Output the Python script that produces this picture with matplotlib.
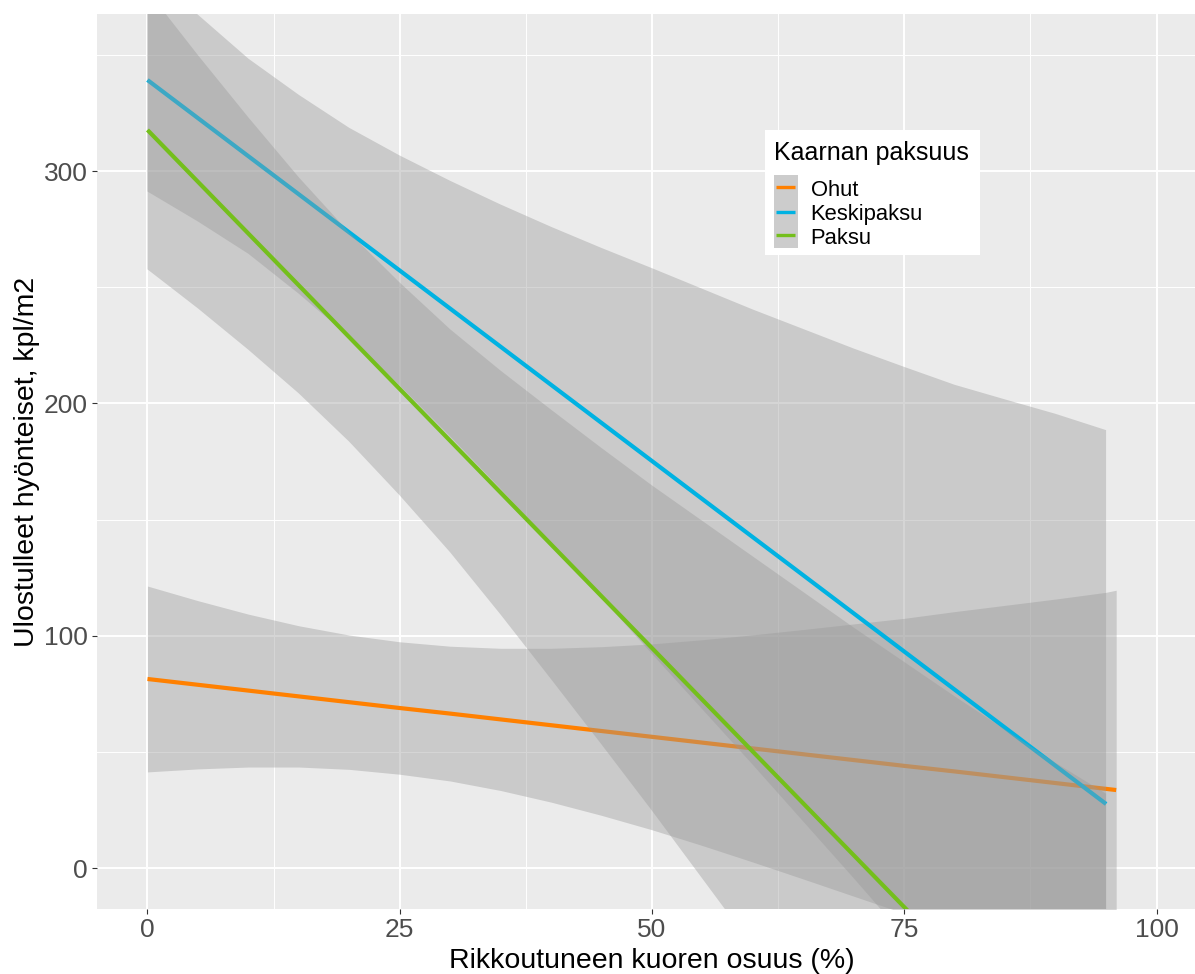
import matplotlib.pyplot as plt
from matplotlib.patches import Rectangle
from matplotlib.lines import Line2D

plt.rcParams["font.family"] = ["Liberation Sans", "DejaVu Sans"]

W, H = 1195, 974

# series (lm fits + 95% bands per bark thickness)
groups = ["Ohut", "Keskipaksu", "Paksu"]
colors = ["#FF8000", "#00B2E2", "#74BF1C"]

ohut_x = [0, 5, 10, 15, 20, 25, 30, 35, 40, 45, 50, 55, 60, 65, 70, 75, 80,
          85, 90, 95, 96]
ohut_fit = [81.4, 78.9, 76.4, 73.9, 71.4, 68.9, 66.5, 64.0, 61.5, 59.0, 56.5,
            54.0, 51.5, 49.0, 46.5, 44.0, 41.6, 39.1, 36.6, 34.1, 33.6]
ohut_upper = [121.4, 115.1, 109.3, 104.3, 100.3, 97.4, 95.5, 94.6, 94.6, 95.3,
              96.5, 98.3, 100.4, 102.7, 105.1, 107.5, 110.4, 113.1, 115.8,
              118.7, 119.6]
ohut_lower = [41.4, 42.7, 43.5, 43.5, 42.5, 40.4, 37.5, 33.4, 28.4, 22.7, 16.5,
              9.7, 2.6, -4.7, -12.1, -19.5, -27.2, -34.9, -42.6, -50.5, -52.4]

kesk_x = [0, 5, 10, 15, 20, 25, 30, 35, 40, 45, 50, 55, 60, 65, 70, 75, 80,
          85, 90, 95]
kesk_fit = [339.2, 322.8, 306.4, 290.0, 273.6, 257.2, 240.8, 224.4, 208.0,
            191.6, 175.2, 158.8, 142.4, 126.0, 109.6, 93.2, 76.8, 60.4, 44.0,
            27.6]
kesk_upper = [387.2, 367.3, 348.4, 332.8, 318.6, 306.7, 295.8, 285.6, 276.0,
              266.9, 258.2, 249.3, 240.4, 232.0, 223.6, 215.7, 208.0, 201.7,
              195.5, 188.5]
kesk_lower = [291.2, 278.3, 264.4, 247.2, 228.6, 207.7, 185.8, 163.2, 140.0,
              116.3, 92.2, 68.3, 44.4, 20.0, -4.4, -29.3, -54.4, -80.9,
              -107.5, -133.3]

paks_x = [0, 5, 10, 15, 20, 25, 30, 35, 40, 45, 50, 55, 60, 65, 70, 75, 80,
          85, 90, 95]
paks_fit = [317.7, 295.4, 273.1, 250.8, 228.5, 206.2, 183.9, 161.6, 139.3,
            117.0, 94.7, 72.4, 50.1, 27.8, 5.5, -16.8, -39.1, -61.4, -83.7,
            -106.0]
paks_upper = [377.7, 349.9, 323.1, 297.3, 273.5, 252.0, 231.9, 214.1, 197.3,
              180.8, 164.7, 149.4, 134.1, 118.8, 103.5, 88.7, 73.9, 59.6,
              45.3, 32.0]
paks_lower = [257.7, 240.9, 223.1, 204.3, 183.5, 160.4, 135.9, 109.1, 81.3,
              53.2, 24.7, -4.6, -33.9, -63.2, -92.5, -122.3, -152.1, -182.4,
              -212.7, -244.0]

series = [
    (ohut_x, ohut_fit, ohut_lower, ohut_upper),
    (kesk_x, kesk_fit, kesk_lower, kesk_upper),
    (paks_x, paks_fit, paks_lower, paks_upper),
]

x_ticks = [0, 25, 50, 75, 100]
y_ticks = [0, 100, 200, 300]


def fx(px):
    return px / W


def fy(py):
    return 1 - py / H


fig = plt.figure(figsize=(W / 100, H / 100), dpi=100)
fig.patch.set_facecolor("white")

# panel runs past the right edge, as in the cropped reference
ax = fig.add_axes([fx(97), fy(909), (1207 - 97) / W, (909 - 14) / H])
ax.set_facecolor("#EBEBEB")
for s in ax.spines.values():
    s.set_visible(False)

z = 2
for (x, fit, lo, up), col in zip(series, colors):
    ax.fill_between(x, lo, up, color="#999999", alpha=0.4, lw=0, zorder=z)
    ax.plot(x, fit, color=col, lw=3.0, solid_capstyle="butt", zorder=z + 1)
    z += 2

ax.set_xlim(-5, 105)
ax.set_ylim(-17.6, 367.6)
ax.set_xticks(x_ticks)
ax.set_xticks([12.5, 37.5, 62.5, 87.5], minor=True)
ax.set_yticks(y_ticks)
ax.set_yticks([50, 150, 250, 350], minor=True)
ax.set_xticklabels([str(v) for v in x_ticks])
ax.set_yticklabels([str(v) for v in y_ticks])
ax.set_axisbelow(True)
ax.grid(which="major", color="white", lw=1.4)
ax.grid(which="minor", color="white", lw=0.7)
ax.tick_params(which="major", length=3.5, width=0.8, color="#333333",
               labelsize=19, labelcolor="#4D4D4D", pad=3)
ax.tick_params(which="minor", length=0)

fig.text(fx(652), fy(968), "Rikkoutuneen kuoren osuus (%)", fontsize=20.5,
         ha="center", va="baseline", color="black")
fig.text(fx(27), fy(461.5), "Ulostulleet hyönteiset, kpl/m2", fontsize=20.5,
         ha="center", va="center", rotation=90, color="black")

# legend drawn by hand
fig.add_artist(Rectangle((fx(765), fy(255)), (980 - 765) / W, (255 - 130) / H,
                         transform=fig.transFigure, facecolor="white",
                         edgecolor="none", zorder=10))
fig.text(fx(774), fy(160), "Kaarnan paksuus", fontsize=18, ha="left",
         va="baseline", color="black", zorder=11)
fig.add_artist(Rectangle((fx(773.5), fy(247.5)), (797.5 - 773.5) / W,
                         (247.5 - 175) / H, transform=fig.transFigure,
                         facecolor="#CCCCCC", edgecolor="none", zorder=11))
key_y = [187, 211.5, 234.5]
text_y = [196.5, 220, 243.5]
for name, col, ky, ty in zip(groups, colors, key_y, text_y):
    fig.add_artist(Line2D([fx(776), fx(795)], [fy(ky), fy(ky)],
                          transform=fig.transFigure, color=col, lw=2.4,
                          solid_capstyle="butt", zorder=12))
    fig.text(fx(810.5), fy(ty), name, fontsize=15.8, ha="left",
             va="baseline", color="black", zorder=12)

fig.savefig("out.png", dpi=100)
